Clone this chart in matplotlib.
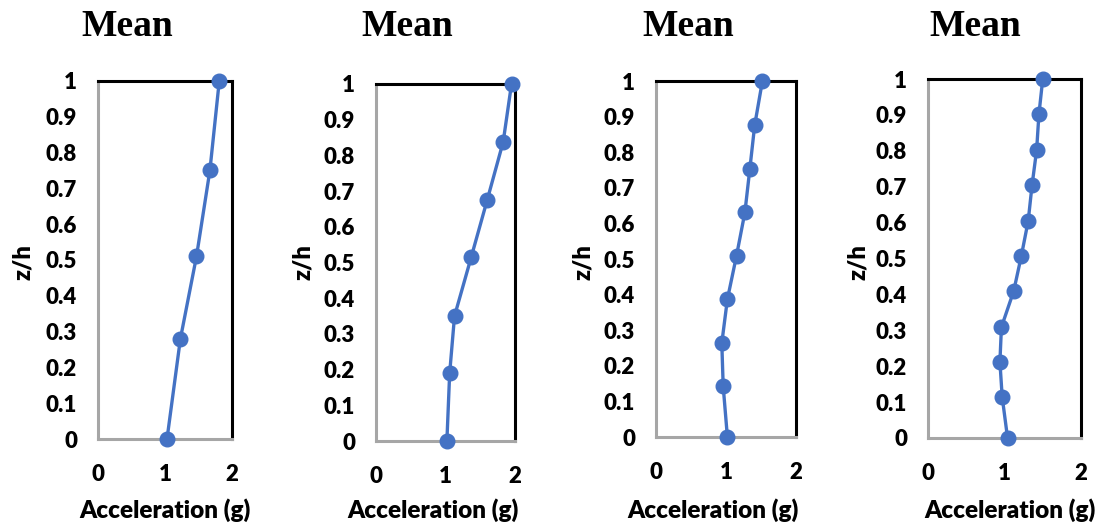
import numpy as np
import matplotlib.pyplot as plt

plt.rcParams['font.family'] = ['Lato', 'DejaVu Sans']

# profile data, one pair of arrays per panel
acc_1 = [1.03, 1.23, 1.47, 1.67, 1.81]
zh_1 = [0.0, 0.28, 0.51, 0.75, 1.0]

acc_2 = [1.02, 1.06, 1.13, 1.37, 1.60, 1.83, 1.95]
zh_2 = [0.0, 0.19, 0.35, 0.515, 0.675, 0.838, 1.0]

acc_3 = [1.02, 0.96, 0.94, 1.02, 1.15, 1.27, 1.34, 1.41, 1.52]
zh_3 = [0.0, 0.142, 0.264, 0.387, 0.509, 0.631, 0.752, 0.876, 1.0]

acc_4 = [1.04, 0.97, 0.94, 0.96, 1.12, 1.22, 1.31, 1.36, 1.42, 1.45, 1.50]
zh_4 = [0.0, 0.114, 0.212, 0.309, 0.409, 0.507, 0.605, 0.704, 0.802, 0.902, 1.0]

x_ticks = [0, 1, 2]
y_ticks = [0, 0.1, 0.2, 0.3, 0.4, 0.5, 0.6, 0.7, 0.8, 0.9, 1]
y_ticklabels = ['0', '0.1', '0.2', '0.3', '0.4', '0.5', '0.6', '0.7', '0.8', '0.9', '1']

W, H = 1102, 526
fig = plt.figure(figsize=(W / 100, H / 100), dpi=100)

# axes boxes in pixels: left, right, top, bottom ; title x ; ylabel x ; xlabel x
boxes = [
    (98, 232, 81, 439, 127, 23, 165),
    (376, 515, 84, 441, 407, 303, 433),
    (656, 796, 81, 437, 688, 583, 713),
    (928, 1081, 79, 438, 975, 858, 1010),
]
series = [(acc_1, zh_1), (acc_2, zh_2), (acc_3, zh_3), (acc_4, zh_4)]

for (l, r, t, b, tx, yx, xx), (acc, zh) in zip(boxes, series):
    ax = fig.add_axes([l / W, 1 - b / H, (r - l) / W, (b - t) / H])
    ax.plot(acc, zh, '-o', color='#4472C4', lw=2.4, ms=10.5, clip_on=False, zorder=5)
    ax.set_xlim(0, 2)
    ax.set_ylim(0, 1)
    ax.set_xticks(x_ticks)
    ax.set_yticks(y_ticks)
    ax.set_yticklabels(y_ticklabels)
    ax.tick_params(length=0, labelsize=16)
    ax.tick_params(axis='y', pad=15)
    ax.tick_params(axis='x', pad=18)
    for lab in ax.get_xticklabels() + ax.get_yticklabels():
        lab.set_fontweight('heavy')
    for side in ['top', 'right']:
        ax.spines[side].set_color('black')
        ax.spines[side].set_linewidth(2.2)
    for side in ['left', 'bottom']:
        ax.spines[side].set_color('#a6a6a6')
        ax.spines[side].set_linewidth(2.2)
    fig.text(tx / W, 1 - 27 / H, 'Mean', family='Liberation Serif', fontweight='bold',
             fontsize=27, ha='center', va='center')
    fig.text(yx / W, 1 - 262 / H, 'z/h', fontweight='heavy', fontsize=17,
             rotation=90, ha='center', va='center')
    fig.text(xx / W, 1 - 510 / H, 'Acceleration (g)', fontweight='heavy', fontsize=17.5,
             ha='center', va='center')

fig.savefig('out.png', dpi=100)
